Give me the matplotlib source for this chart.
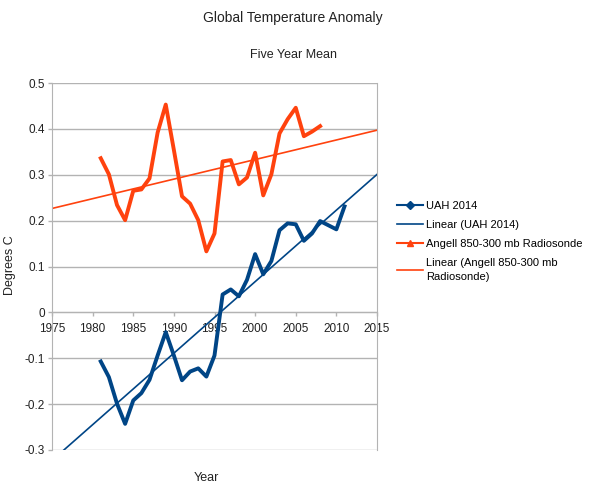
import numpy as np
import matplotlib
matplotlib.use("Agg")
import matplotlib.pyplot as plt
from matplotlib.lines import Line2D

plt.rcParams["font.family"] = ["Liberation Sans", "DejaVu Sans"]

# 五年平均：UAH 2014（1981-2011）
uah_years = list(range(1981, 2012))
uah_vals = [-0.107, -0.141, -0.199, -0.243, -0.192, -0.176, -0.147, -0.094,
            -0.043, -0.094, -0.148, -0.129, -0.122, -0.140, -0.094, 0.039,
            0.050, 0.035, 0.071, 0.127, 0.083, 0.112, 0.179, 0.194, 0.192,
            0.156, 0.172, 0.199, 0.190, 0.181, 0.231]
# Angell 850-300 mb Radiosonde（1981-2008）
angell_years = list(range(1981, 2009))
angell_vals = [0.336, 0.301, 0.234, 0.201, 0.265, 0.268, 0.292, 0.392,
               0.453, 0.354, 0.253, 0.237, 0.201, 0.133, 0.172, 0.329,
               0.332, 0.279, 0.294, 0.348, 0.255, 0.301, 0.390, 0.421,
               0.446, 0.384, 0.394, 0.406]
x_ticks = list(range(1975, 2016, 5))
y_ticks = [-0.3, -0.2, -0.1, 0, 0.1, 0.2, 0.3, 0.4, 0.5]
y_labels = ["-0.3", "-0.2", "-0.1", "0", "0.1", "0.2", "0.3", "0.4", "0.5"]

BLUE = "#004586"
ORANGE = "#ff420e"
GRID = "#b3b3b3"

fig = plt.figure(figsize=(5.93, 4.96), dpi=100)
ax = fig.add_axes([52 / 593, 1 - 450 / 496, 325 / 593, 367 / 496])

# 線性趨勢（同試算表 trendline），延伸到整個 x 範圍
xs = np.array([1975, 2015])
for yrs, vals, c in [(uah_years, uah_vals, BLUE), (angell_years, angell_vals, ORANGE)]:
    k, b = np.polyfit(yrs, vals, 1)
    ax.plot(xs, k * xs + b, color=c, lw=1.2, zorder=2)

ax.plot(uah_years, uah_vals, color=BLUE, lw=2.8, zorder=3)
ax.plot(angell_years, angell_vals, color=ORANGE, lw=2.8, zorder=3)

ax.set_xlim(1975, 2015)
ax.set_ylim(-0.3, 0.5)
ax.set_xticks(x_ticks)
ax.set_yticks(y_ticks)
ax.set_yticklabels(y_labels)
ax.yaxis.grid(True, color=GRID, lw=1)
ax.set_axisbelow(True)
ax.tick_params(labelsize=8.5, colors=GRID, labelcolor="#222222", length=3, width=1)
ax.tick_params(axis="y", pad=2)
ax.tick_params(axis="x", pad=5)
ax.spines["bottom"].set_position(("data", 0))
for s in ["left", "right", "bottom"]:
    ax.spines[s].set_color(GRID)
ax.spines["top"].set_visible(False)
ax.spines["bottom"].set_zorder(1)

fig.text(293 / 593, 1 - 18 / 496, "Global Temperature Anomaly", ha="center",
         va="center", fontsize=10, color="#222222")
fig.text(293 / 593, 1 - 55 / 496, "Five Year Mean", ha="center", va="center",
         fontsize=9, color="#222222")
fig.text(206 / 593, 1 - 478 / 496, "Year", ha="center", va="center", fontsize=9,
         color="#222222")
fig.text(10 / 593, 1 - 265 / 496, "Degrees C", ha="center", va="center",
         rotation=90, fontsize=9, color="#222222")

handles = [
    Line2D([], [], color=BLUE, lw=1.5, marker="D", ms=4),
    Line2D([], [], color=BLUE, lw=1.2),
    Line2D([], [], color=ORANGE, lw=1.5, marker="^", ms=5),
    Line2D([], [], color=ORANGE, lw=1.2),
]
labels = ["UAH 2014", "Linear (UAH 2014)", "Angell 850-300 mb Radiosonde",
          "Linear (Angell 850-300 mb\nRadiosonde)"]
leg = fig.legend(handles, labels, loc="upper left",
                 bbox_to_anchor=(397 / 593, 1 - 201 / 496),
                 frameon=False, fontsize=8, handlelength=2.3, handletextpad=0.3,
                 labelspacing=0.8, borderaxespad=0, borderpad=0)
for t in leg.get_texts():
    t.set_linespacing(1.5)

fig.savefig("out.png", dpi=100)
